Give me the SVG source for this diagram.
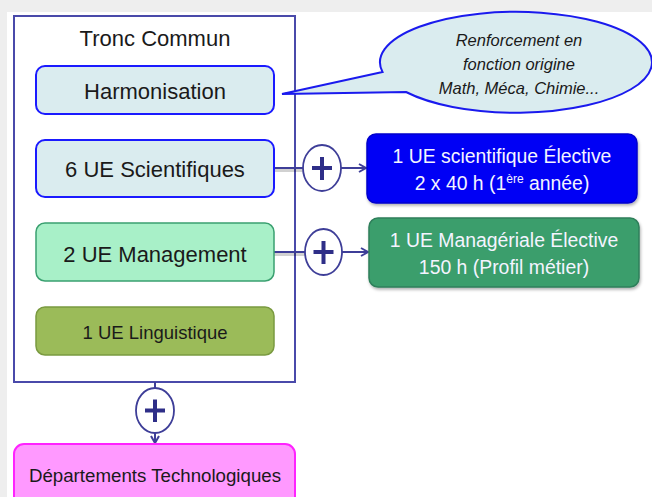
<svg xmlns="http://www.w3.org/2000/svg" width="652" height="497" viewBox="0 0 652 497">
  <style>
    .t { font-family: "Liberation Sans", Arial, sans-serif; fill: #1a1a1a; text-anchor: middle; }
    .w { font-family: "Liberation Sans", Arial, sans-serif; fill: #f4f4ff; text-anchor: middle; font-size: 19.4px; }
    .it { font-family: "Liberation Sans", Arial, sans-serif; fill: #1a1a1a; text-anchor: middle; font-style: italic; font-size: 16.5px; }
    .conn { stroke: #3e3e98; stroke-width: 2; fill: none; }
    .shadow { stroke: #000000; stroke-opacity: 0.18; stroke-width: 3; fill: none; }
    .plus-c { fill: #ffffff; stroke: #3e3e98; stroke-width: 1.8; }
    .plus-s { stroke: #2e2e88; stroke-width: 4; fill: none; }
  </style>
  <defs>
    <marker id="arr" markerWidth="10" markerHeight="10" refX="8" refY="5" orient="auto" markerUnits="userSpaceOnUse">
      <path d="M1,1 L8,5 L1,9" fill="none" stroke="#3e3e98" stroke-width="2"/>
    </marker>
    <filter id="sh" x="-10%" y="-10%" width="120%" height="130%">
      <feDropShadow dx="1" dy="2" stdDeviation="1.5" flood-color="#000" flood-opacity="0.3"/>
    </filter>
  </defs>

  <rect x="0" y="0" width="652" height="497" fill="#eeeeee"/>
  <rect x="7" y="12" width="645" height="485" fill="#ffffff"/>

  <g id="tronc-commun">
    <rect x="14" y="16" width="281" height="366" fill="#ffffff" stroke="#4a4aaa" stroke-width="2"/>
    <text class="t" x="155" y="46" font-size="22">Tronc Commun</text>
  </g>

  <g id="callout">
    <path d="M382.5,72 L282,94 L406,92 A136,50.5 0 1 0 382.5,72 Z" fill="#daecef" stroke="#1a1aee" stroke-width="2"/>
    <text class="it" x="519" y="46">Renforcement en</text>
    <text class="it" x="519" y="70">fonction origine</text>
    <text class="it" x="519" y="94">Math, Méca, Chimie...</text>
  </g>

  <g id="connectors">
    <line class="shadow" x1="274" y1="170.5" x2="303" y2="170.5"/>
    <line class="shadow" x1="274" y1="254.5" x2="305" y2="254.5"/>
    <line class="conn" x1="274" y1="168" x2="303" y2="168"/>
    <line class="conn" x1="341" y1="168" x2="366" y2="168" marker-end="url(#arr)"/>
    <line class="conn" x1="274" y1="252" x2="305" y2="252"/>
    <line class="conn" x1="342" y1="252" x2="368" y2="252" marker-end="url(#arr)"/>
    <line class="conn" x1="155" y1="382" x2="155" y2="388"/>
    <line class="conn" x1="155" y1="433" x2="155" y2="443" marker-end="url(#arr)"/>
  </g>

  <g id="plus-1">
    <ellipse class="plus-c" cx="322" cy="168" rx="19" ry="23"/>
    <path class="plus-s" d="M312,168 H332 M322,157 V180"/>
  </g>
  <g id="plus-2">
    <ellipse class="plus-c" cx="323.5" cy="252" rx="18.5" ry="23"/>
    <path class="plus-s" d="M313.5,252 H333.5 M323.5,241 V264"/>
  </g>
  <g id="plus-3">
    <ellipse class="plus-c" cx="155" cy="410.5" rx="19" ry="22.5"/>
    <path class="plus-s" d="M145,410.5 H165 M155,399.5 V422"/>
  </g>

  <g id="harmonisation">
    <rect x="36" y="66" width="238" height="48" rx="9" fill="#daecef" stroke="#1a1aff" stroke-width="2"/>
    <text class="t" x="155" y="99" font-size="22">Harmonisation</text>
  </g>

  <g id="ue-scientifiques">
    <rect x="36" y="140" width="238" height="57" rx="9" fill="#daecef" stroke="#1a1aff" stroke-width="2"/>
    <text class="t" x="155" y="177" font-size="22">6 UE Scientifiques</text>
  </g>

  <g id="ue-management">
    <rect x="36" y="223" width="238" height="58" rx="9" fill="#a8f0c8" stroke="#3aa070" stroke-width="1.5"/>
    <text class="t" x="155" y="262" font-size="22">2 UE Management</text>
  </g>

  <g id="ue-linguistique">
    <rect x="36" y="307" width="238" height="48" rx="9" fill="#9bbb59" stroke="#7a9a40" stroke-width="1.5"/>
    <text class="t" x="155" y="339" font-size="18.5">1 UE Linguistique</text>
  </g>

  <g id="ue-scientifique-elective">
    <rect x="367" y="134" width="270" height="69" rx="9" fill="#0000f5" stroke="#0000cc" stroke-width="1.5" filter="url(#sh)"/>
    <text class="w" x="502" y="163">1 UE scientifique Élective</text>
    <text class="w" x="502" y="190">2 x 40 h (1<tspan font-size="12" dy="-7">ère</tspan><tspan dy="7"> année)</tspan></text>
  </g>

  <g id="ue-manageriale-elective">
    <rect x="369" y="218" width="270" height="69" rx="9" fill="#3a9e6c" stroke="#2f7f5a" stroke-width="1.5" filter="url(#sh)"/>
    <text class="w" x="504" y="247">1 UE Managériale Élective</text>
    <text class="w" x="504" y="274">150 h (Profil métier)</text>
  </g>

  <g id="departements">
    <rect x="14" y="444" width="281" height="62" rx="10" fill="#ff99ff" stroke="#ff22ff" stroke-width="2"/>
    <text class="t" x="155" y="482" font-size="18.7">Départements Technologiques</text>
  </g>
</svg>
